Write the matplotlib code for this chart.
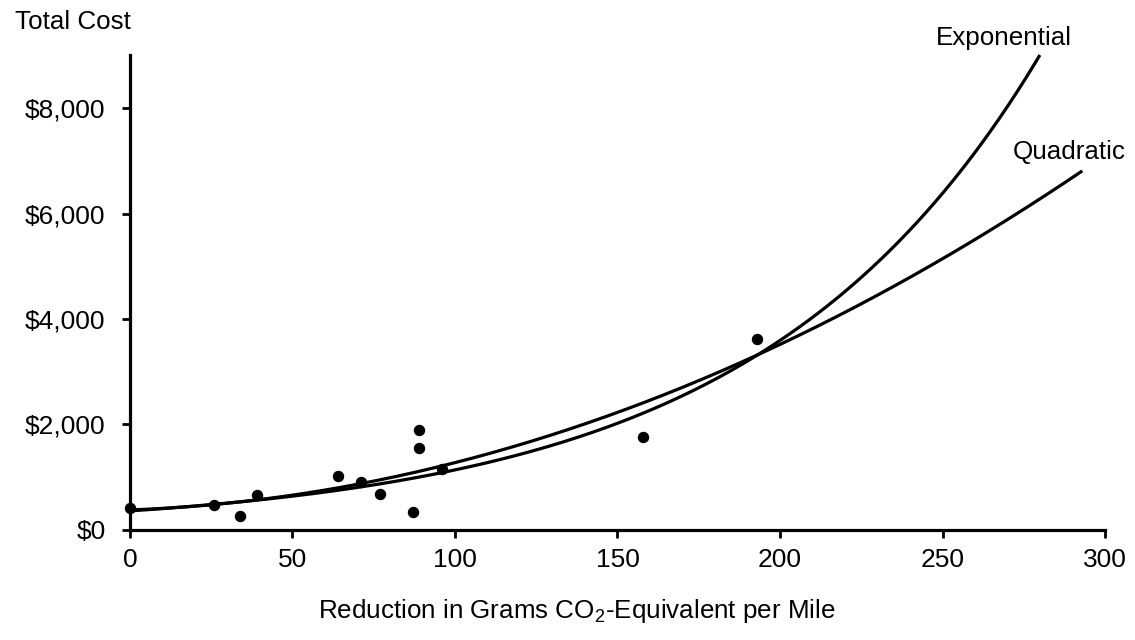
import matplotlib.pyplot as plt
import numpy as np

plt.rcParams['font.family'] = ['Liberation Sans', 'DejaVu Sans']
plt.rcParams['mathtext.fontset'] = 'custom'
plt.rcParams['mathtext.rm'] = 'Liberation Sans'

# observed vehicles: reduction (g CO2-eq/mile) vs total cost ($)
reduction = [0, 26, 34, 39, 64, 71, 77, 87, 89, 89, 96, 158, 193]
cost = [420, 470, 265, 660, 1020, 915, 680, 350, 1895, 1560, 1155, 1755, 3620]

# fitted trend lines (coefficients)
exp_a, exp_b = 361.0, 0.01149
quad_c0, quad_c1, quad_c2 = 380.0, 2.25, 0.0672
exp_xmax = 279.7
quad_xmax = 292.6

xticks = [0, 50, 100, 150, 200, 250, 300]
yticks = [0, 2000, 4000, 6000, 8000]
ytick_labels = ['$0', '$2,000', '$4,000', '$6,000', '$8,000']

fig = plt.figure(figsize=(11.35, 6.4), dpi=100)
ax = fig.add_axes([0.1145, 0.1719, 0.8591, 0.7417])

xe = np.linspace(0, exp_xmax, 300)
ax.plot(xe, exp_a * np.exp(exp_b * xe), color='k', lw=2.3, clip_on=False)
xq = np.linspace(0, quad_xmax, 300)
ax.plot(xq, quad_c0 + quad_c1 * xq + quad_c2 * xq ** 2, color='k', lw=2.3, clip_on=False)

ax.scatter(reduction, cost, s=52, color='k', zorder=3, clip_on=False)

ax.set_xlim(0, 300)
ax.set_ylim(0, 9000)
ax.set_xticks(xticks)
ax.set_yticks(yticks)
ax.set_yticklabels([t.replace('$', r'\$') for t in ytick_labels])
ax.tick_params(axis='both', labelsize=19, width=2, length=6, color='k')
ax.tick_params(axis='x', pad=7)
ax.tick_params(axis='y', pad=11.5)

for s in ['top', 'right']:
    ax.spines[s].set_visible(False)
for s in ['left', 'bottom']:
    ax.spines[s].set_linewidth(2.3)

fig.text(577 / 1135, 1 - 611 / 640, r'Reduction in Grams CO$_2$-Equivalent per Mile',
         fontsize=18.7, ha='center', va='center')
fig.text(15 / 1135, 1 - 22 / 640, 'Total Cost', fontsize=18.7, ha='left', va='center')
fig.text(1004 / 1135, 1 - 38 / 640, 'Exponential', fontsize=18.7, ha='center', va='center')
fig.text(1069 / 1135, 1 - 152 / 640, 'Quadratic', fontsize=18.7, ha='center', va='center')

plt.savefig('out.png', dpi=100)
plt.close()
